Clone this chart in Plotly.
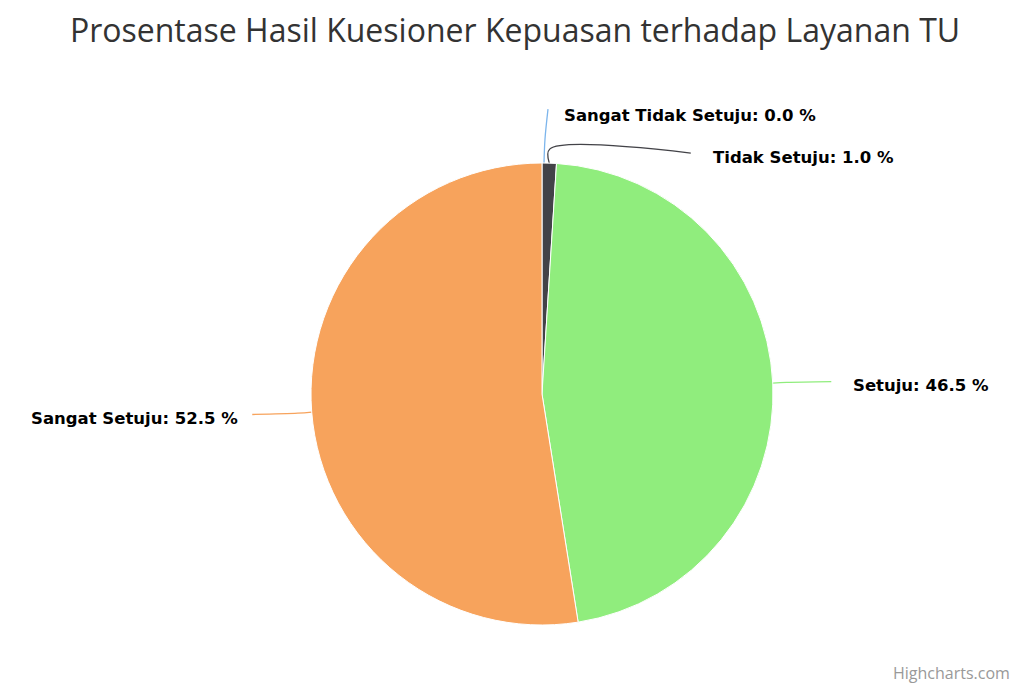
import math
import plotly.graph_objects as go

# data
kategori = ["Sangat Tidak Setuju", "Tidak Setuju", "Setuju", "Sangat Setuju"]
persen = [0.0, 1.0, 46.5, 52.5]
warna = ["#7cb5ec", "#434348", "#90ed7d", "#f7a35c"]

# halaman punya margin 8px, jadi gambar dibuat 1022x679 dan sumbu memakai koordinat halaman
OFF = 8
W, H = 1030, 687
FW, FH = W - OFF, H - OFF
cx, cy, r = 542, 394, 231   # pusat / jari-jari pie (px halaman)
jarak = 30

fig = go.Figure()

fig.add_trace(go.Pie(
    labels=kategori,
    values=persen,
    sort=False,
    direction="clockwise",
    rotation=0,
    marker=dict(colors=warna, line=dict(color="white", width=1)),
    textinfo="none",
    hoverinfo="label+percent",
    showlegend=False,
    domain=dict(x=[(cx - r - OFF) / FW, (cx + r - OFF) / FW],
                y=[(H - cy - r) / FH, (H - cy + r) / FH]),
))

# posisi label dari sudut tengah tiap irisan
total = sum(persen)
awal = 0
info = []
for nama, nilai, c in zip(kategori, persen, warna):
    tengah = (awal + nilai / 2) / total * 2 * math.pi
    awal += nilai
    kanan = math.sin(tengah) >= 0 or nilai == 0
    ly = cy - (r + jarak) * math.cos(tengah) + 4
    info.append(dict(nama=nama, nilai=nilai, c=c, a=tengah, kanan=kanan, ly=ly))

# geser label kanan yang bertumpuk
kanan_lbl = sorted([d for d in info if d["kanan"]], key=lambda d: d["ly"])
for i in range(1, len(kanan_lbl)):
    if kanan_lbl[i]["ly"] - kanan_lbl[i - 1]["ly"] < 42:
        tengah_y = (kanan_lbl[i]["ly"] + kanan_lbl[i - 1]["ly"]) / 2
        kanan_lbl[i - 1]["ly"] = tengah_y - 22
        kanan_lbl[i]["ly"] = tengah_y + 20

R = r + 59
for d in info:
    a = d["a"]
    ex, ey = cx + r * math.sin(a), cy - r * math.cos(a)
    bx, by = cx + (r + 14) * math.sin(a), cy - (r + 14) * math.cos(a)
    dy = min(abs(d["ly"] - 12 - cy), R)
    sx = math.sqrt(R ** 2 - dy ** 2)
    lx = cx + sx if d["kanan"] else cx - sx
    line_y = d["ly"] - 4
    if d["nilai"] == 0:
        # irisan kosong: garis melengkung sedikit ke kanan
        xs, ys = [ex + 2, ex + 3, lx + 6], [ey, by - 10, line_y - 2]
    else:
        xs, ys = [ex, bx, lx], [ey, by, line_y]
    fig.add_trace(go.Scatter(
        x=xs, y=ys,
        mode="lines", line=dict(color=d["c"], width=1.3, shape="spline"),
        hoverinfo="skip", showlegend=False,
    ))
    fig.add_annotation(
        x=lx + (20 if d["kanan"] else -12), y=d["ly"], xref="x", yref="y",
        text="<b>%s: %.1f %%</b>" % (d["nama"], d["nilai"]),
        showarrow=False, xanchor="left" if d["kanan"] else "right",
        yanchor="middle",
        font=dict(family="DejaVu Sans", size=16.5, color="#000000"),
    )

fig.add_annotation(
    x=1012, y=673, xref="x", yref="y", xanchor="right", yanchor="middle",
    text="Highcharts.com", showarrow=False,
    font=dict(family="Open Sans", size=16, color="#999999"),
)

fig.update_layout(
    width=FW, height=FH,
    margin=dict(l=0, r=0, t=0, b=0),
    paper_bgcolor="white", plot_bgcolor="white",
    title=dict(text="Prosentase Hasil Kuesioner Kepuasan terhadap Layanan TU",
               x=(515 - OFF) / FW, xanchor="center",
               y=1 - (31 - OFF) / FH, yanchor="middle",
               font=dict(family="Open Sans", size=32, color="#333333")),
    xaxis=dict(range=[OFF, W], visible=False, fixedrange=True),
    yaxis=dict(range=[H, OFF], visible=False, fixedrange=True),
)

fig.write_html("out.html")
